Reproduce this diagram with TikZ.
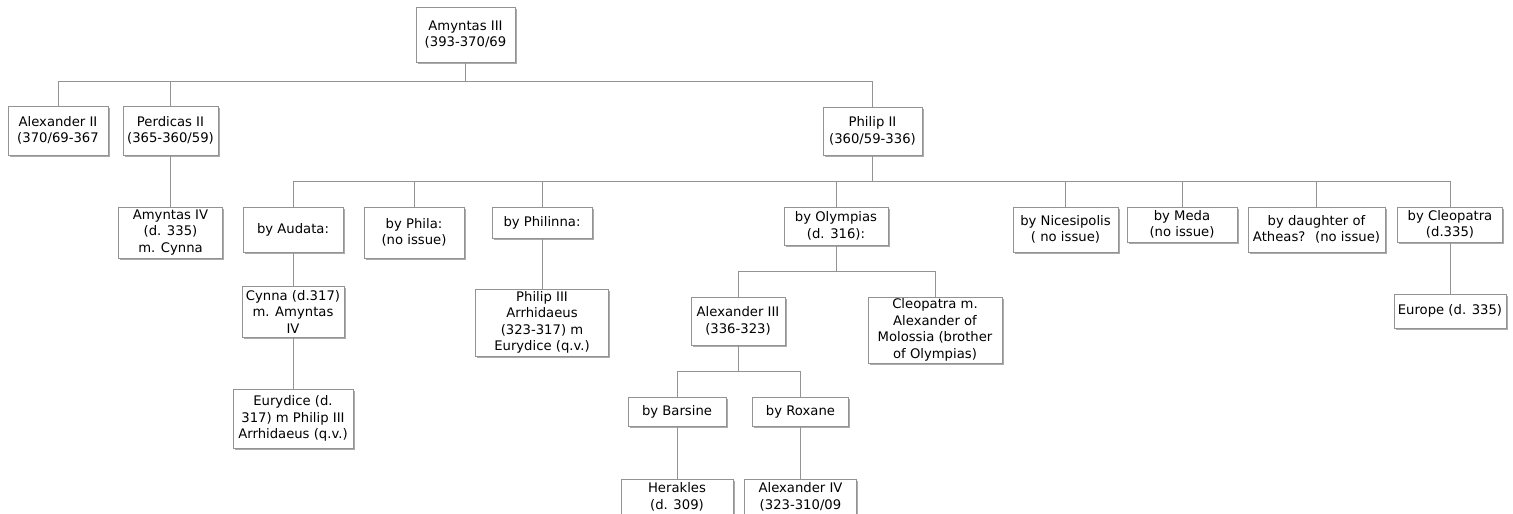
\documentclass[tikz,border=0pt]{standalone}
\usepackage{fontspec}
\setmainfont{DejaVu Sans}
\usetikzlibrary{shadows}

\begin{document}
\begin{tikzpicture}[x=1pt, y=-1pt,
    person/.style={draw=gray!85, fill=white, line width=0.6pt, align=center, inner sep=1pt,
      font=\fontsize{13.2}{16.5}\selectfont,
      drop shadow={shadow xshift=1.6pt, shadow yshift=-1.6pt, fill=black!55, opacity=0.6}},
    wh/.style 2 args={minimum width=#1, minimum height=#2},
    link/.style={draw=gray!85, line width=0.6pt}]
  \useasboundingbox (0,0) rectangle (1513,514);

  \node[person, wh={99}{55}] (amyn3) at (465.5,34.5) {Amyntas III\\(393-370/69};
  \node[person, wh={100}{49}] (alex2) at (58,130.5) {Alexander II\\(370/69-367};
  \node[person, wh={95}{49}] (perd2) at (170.5,130.5) {Perdicas II\\(365-360/59)};
  \node[person, wh={99}{48}] (phil2) at (872.5,131) {Philip II\\(360/59-336)};
  \node[person, wh={104}{51}] (amyn4) at (170.5,232.5) {Amyntas IV\\(d. 335)\\m. Cynna};

  \node[person, wh={100}{45}] (audata) at (293,229.5) {by Audata:};
  \node[person, wh={100}{51}] (phila) at (414,232.5) {by Phila:\\(no issue)};
  \node[person, wh={100}{31}] (philinna) at (542,222.5) {by Philinna:};
  \node[person, wh={104}{38}] (olymp) at (836,226) {by Olympias\\(d. 316):};
  \node[person, wh={105}{45}] (nices) at (1065.5,229.5) {by Nicesipolis\\( no issue)};
  \node[person, wh={110}{35}] (meda) at (1182,224.5) {by Meda\\(no issue)};
  \node[person, wh={137}{45}] (athea) at (1316.5,229.5) {by daughter of\\Atheas?~ (no issue)};
  \node[person, wh={105}{35}] (cleo) at (1450,224.5) {by Cleopatra\\(d.335)};

  \node[person, wh={102}{51}] (cynna) at (293,311.5) {Cynna (d.317)\\m. Amyntas\\IV};
  \node[person, wh={120}{59}] (euryd) at (293,418.5) {Eurydice (d.\\317) m Philip III\\Arrhidaeus (q.v.)};
  \node[person, wh={133}{67}] (phil3) at (542,322.5) {Philip III\\Arrhidaeus\\(323-317) m\\Eurydice (q.v.)};
  \node[person, wh={94}{48}] (alex3) at (738,321) {Alexander III\\(336-323)};
  \node[person, wh={134}{66}] (cleom) at (935,330) {Cleopatra m.\\Alexander of\\Molossia (brother\\of Olympias)};
  \node[person, wh={98}{29}] (barsine) at (677,411.5) {by Barsine};
  \node[person, wh={96}{29}] (roxane) at (800.5,411.5) {by Roxane};
  \node[person, wh={112}{36}] (herak) at (677,497) {Herakles\\(d. 309)};
  \node[person, wh={112}{36}] (alex4) at (800.5,497) {Alexander IV\\(323-310/09};
  \node[person, wh={112}{34}] (europe) at (1450,311) {Europe (d. 335)};

  \coordinate (j0) at (465.5,81);
  \coordinate (j1) at (872.5,181);
  \coordinate (j2) at (836,271);
  \coordinate (j3) at (738,371);

  \draw[link] (amyn3) -- (j0);
  \foreach \c in {alex2,perd2,phil2} \draw[link] (j0) -| (\c.north);
  \draw[link] (phil2) -- (j1);
  \foreach \c in {audata,phila,philinna,olymp,nices,meda,athea,cleo} \draw[link] (j1) -| (\c.north);
  \draw[link] (olymp) -- (j2);
  \foreach \c in {alex3,cleom} \draw[link] (j2) -| (\c.north);
  \draw[link] (alex3) -- (j3);
  \foreach \c in {barsine,roxane} \draw[link] (j3) -| (\c.north);

  \draw[link] (perd2) -- (amyn4);
  \draw[link] (audata) -- (cynna) -- (euryd);
  \draw[link] (philinna) -- (phil3);
  \draw[link] (barsine) -- (herak);
  \draw[link] (roxane) -- (alex4);
  \draw[link] (cleo) -- (europe);
\end{tikzpicture}
\end{document}
